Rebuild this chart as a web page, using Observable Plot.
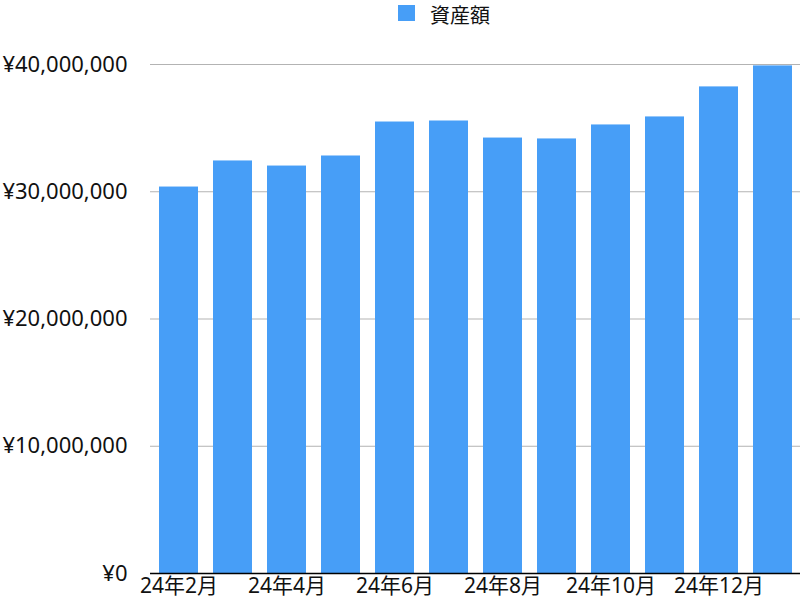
<!DOCTYPE html>
<html>
<head>
<meta charset="utf-8">
<script src="https://cdn.jsdelivr.net/npm/d3@7"></script>
<script src="https://cdn.jsdelivr.net/npm/@observablehq/plot@0.6"></script>
<style>
  html, body { margin: 0; padding: 0; background: #fff; overflow: hidden; }
  body { width: 804px; height: 600px; font-family: "Noto Sans", "Noto Sans CJK JP", sans-serif; }
  #legend { position: relative; height: 25px; }
  #legend .sw { position: absolute; left: 398px; top: 5px; width: 17px; height: 16px; }
  #legend .lb { position: absolute; left: 430px; top: 0px; font-size: 20px; line-height: 29px; color: #111;
                font-family: "Noto Sans CJK JP", sans-serif; }
  #chart svg g[aria-label="y-axis tick label"] { font-size: 22px; }
</style>
</head>
<body>
<div id="legend"><span class="sw"></span><span class="lb"></span></div>
<div id="chart"></div>
<script>
const seriesName = "資産額";
const months = ["24年2月","24年3月","24年4月","24年5月","24年6月","24年7月","24年8月","24年9月","24年10月","24年11月","24年12月","25年1月"];
const assets = [30370000, 32420000, 32020000, 32810000, 35480000, 35560000, 34220000, 34150000, 35250000, 35880000, 38240000, 39890000];
const yTicks = [0, 10000000, 20000000, 30000000, 40000000];
const xTickLabels = ["24年2月","24年4月","24年6月","24年8月","24年10月","24年12月"];
const barColor = "#479ef7";

const data = months.map((m, i) => ({month: m, value: assets[i]}));

document.querySelector("#legend .sw").style.background = barColor;
document.querySelector("#legend .lb").textContent = seriesName;

const fmt = d3.format(",");
const chart = Plot.plot({
  width: 804,
  height: 575,
  marginLeft: 150,
  marginRight: 4,
  marginTop: 39,
  marginBottom: 27,
  style: {fontSize: "21px", fontFamily: "'Noto Sans', 'Noto Sans CJK JP', sans-serif", color: "#111", overflow: "visible"},
  x: {type: "band", domain: months, paddingInner: 0.28, paddingOuter: 0.14, label: null},
  y: {domain: [0, 40000000], label: null},
  marks: [
    Plot.gridY(yTicks, {stroke: "#b3b3b3", strokeOpacity: 1}),
    Plot.barY(data, {x: "month", y: "value", fill: barColor}),
    Plot.ruleY([0], {stroke: "#000", strokeWidth: 1.6}),
    Plot.axisY(yTicks, {tickSize: 0, tickPadding: 23, tickFormat: d => "¥" + fmt(d), label: null}),
    Plot.axisX(xTickLabels, {tickSize: 0, tickPadding: 5, label: null})
  ]
});
document.getElementById("chart").appendChild(chart);
</script>
</body>
</html>
